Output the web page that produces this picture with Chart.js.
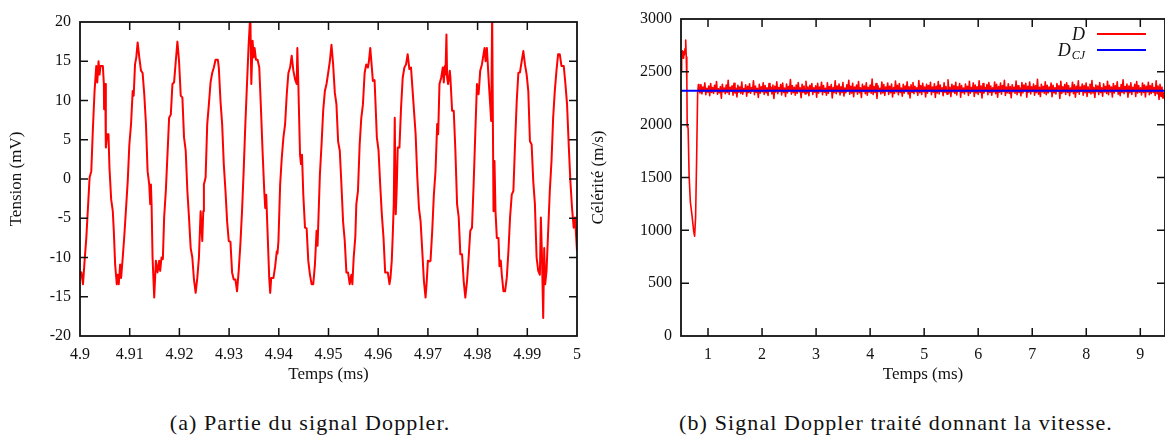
<!DOCTYPE html>
<html><head><meta charset="utf-8">
<script src="https://cdn.jsdelivr.net/npm/chart.js@4.4.1/dist/chart.umd.min.js"></script>
<style>
html,body{margin:0;padding:0;background:#fff;width:1165px;height:439px;overflow:hidden;position:relative}
#c1{position:absolute;left:0;top:0}
#c2{position:absolute;left:585px;top:0}
.cap{position:absolute;top:410px;font-family:"Liberation Serif",serif;font-size:22px;letter-spacing:1.1px;white-space:nowrap;text-align:center;color:#111;line-height:26px}
</style></head><body>
<canvas id="c1" width="590" height="390"></canvas>
<canvas id="c2" width="585" height="390"></canvas>
<div class="cap" style="left:0;width:620px">(a) Partie du signal Doppler.</div>
<div class="cap" style="left:596px;width:600px">(b) Signal Doppler traité donnant la vitesse.</div>
<script>
// ---------- (a) Doppler signal ----------
const leftT = [4.9000,4.90027,4.9006,4.90093,4.90127,4.90193,4.90227,4.9026,4.90293,4.90327,4.90347,4.90373,4.90393,4.90413,4.9046,4.9048,4.90485,4.90507,4.9052,4.90547,4.90573,4.90593,4.90627,4.9066,4.9068,4.90707,4.9074,4.9076,4.9078,4.90807,4.90827,4.9086,4.90893,4.9096,4.90993,4.91027,4.9106,4.9108,4.91107,4.91133,4.9116,4.91193,4.91227,4.9126,4.91293,4.91327,4.9136,4.91393,4.91413,4.91427,4.9144,4.9146,4.91493,4.91527,4.9156,4.91593,4.91613,4.9164,4.91667,4.91693,4.91727,4.9176,4.91793,4.91827,4.9186,4.91893,4.91927,4.9196,4.91993,4.92027,4.9206,4.92093,4.92127,4.9216,4.92193,4.92227,4.9226,4.92293,4.92327,4.9236,4.92393,4.92427,4.9246,4.9248,4.92493,4.92527,4.9256,4.92593,4.92627,4.9266,4.92693,4.92727,4.92773,4.92793,4.92827,4.9286,4.92893,4.92927,4.9296,4.92993,4.93027,4.9306,4.93093,4.93127,4.9316,4.93193,4.93227,4.9326,4.93293,4.93327,4.9336,
4.93393,4.93427,4.93447,4.93473,4.93493,4.93513,4.9354,4.93573,4.93607,4.9364,4.93673,4.93707,4.93727,4.93747,4.93773,4.93807,4.93827,4.93847,4.93893,4.93927,4.9396,4.93973,4.93993,4.94027,4.9406,4.94093,4.94127,4.9416,4.94193,4.94227,4.9426,4.94293,4.94327,4.9436,4.94373,4.94393,4.94427,4.94447,4.94467,4.94493,4.94527,4.9456,4.94593,4.94627,4.9466,4.94693,4.94727,4.9476,4.9478,4.94827,4.9486,4.94893,4.94927,4.9496,4.94993,4.95027,4.9506,4.95093,4.95127,4.9516,4.95193,4.95227,4.9526,4.95293,4.95327,4.9536,4.95393,4.95427,4.9546,4.9548,4.95507,4.9554,4.9556,4.95593,4.95627,4.9566,4.95693,4.95727,4.9576,4.95793,4.95813,4.9584,4.95867,4.95893,4.95927,4.95947,4.95973,4.96007,4.9604,4.96073,4.96107,4.9614,4.96193,4.96227,4.96247,4.96273,4.96293,4.96313,4.96333,4.96353,4.96373,4.96393,4.96427,4.9646,4.96493,4.96527,4.9656,4.96593,4.96627,4.9666,4.96693,
4.96753,4.96787,4.9682,4.96853,4.96887,4.9692,4.96953,4.96973,4.97,4.97033,4.97053,4.97087,4.9712,4.97153,4.97187,4.97207,4.97233,4.97267,4.973,4.9732,4.9734,4.97353,4.97373,4.97387,4.97407,4.9744,4.97453,4.97487,4.9752,4.97553,4.97587,4.9762,4.97653,4.97687,4.9772,4.97753,4.97787,4.9782,4.97853,4.97887,4.9792,4.97953,4.97987,4.9802,4.98053,4.98087,4.9812,4.9814,4.9816,4.98187,4.9822,4.9824,4.98253,4.98273,4.98293,4.9832,4.9834,4.9836,4.98387,4.9842,4.9844,4.98467,4.98487,4.9852,4.98553,4.98587,4.9862,4.98653,4.98687,4.9872,4.98753,4.98787,4.9882,4.98853,4.98887,4.9892,4.98953,4.98987,4.9902,4.99053,4.99087,4.9912,4.99153,4.99187,4.9922,4.99253,4.99273,4.99293,4.9932,4.9934,4.9936,4.99387,4.9942,4.99453,4.99487,4.9952,4.99553,4.99587,4.9962,4.99653,4.99687,4.99733,4.99767,4.998,4.99833,4.99867,4.999,4.99933,4.9996,5.0];
const leftV = [-12.2,-11.9,-13.4,-10.4,-7.5,0.2,1.0,6.5,11.2,14.4,12.3,15.0,13.3,14.4,14.4,12.1,8.9,12.1,4.0,5.7,5.7,1.4,-2.6,-4.1,-6.6,-10.9,-13.4,-12.2,-13.4,-10.9,-12.6,-10.0,-7.1,-0.3,4.4,7.0,11.2,10.6,14.6,15.5,17.4,15.5,13.8,13.5,10.8,7.0,1.0,-0.7,-3.2,-0.7,-3.2,-10.0,-15.1,-10.4,-11.9,-10.4,-11.7,-10.0,-10.2,-4.9,-1.5,3.1,7.8,8.2,12.1,12.3,15.0,17.5,15.0,10.6,10.4,5.3,3.6,-1.5,-4.9,-8.8,-10.0,-12.8,-14.5,-12.6,-10.0,-4.1,-7.9,-4.1,-0.7,0.2,7.0,9.5,12.3,13.5,14.2,15.2,15.2,14.2,9.9,7.0,1.9,-1.5,-5.4,-7.9,-8.0,-11.9,-12.8,-12.8,-14.3,-11.7,-8.3,-4.1,1.0,7.0,12.1,
17.1,21.0,12.1,17.6,15.5,16.7,15.2,15.2,14.2,9.1,3.6,-1.5,-3.7,-2.0,-6.6,-12.6,-14.5,-12.6,-12.6,-11.1,-9.2,-9.5,-7.9,-0.7,2.7,5.3,7.0,10.8,13.5,14.2,15.7,13.8,12.7,12.1,16.7,12.1,3.1,1.9,3.1,-2.0,-6.2,-6.3,-10.4,-12.2,-13.4,-13.4,-10.9,-6.6,-8.5,0.6,4.4,8.7,11.2,12.1,13.5,15.0,17.1,14.6,11.0,9.5,4.8,3.6,-0.7,-5.4,-7.9,-11.9,-11.9,-13.4,-12.2,-13.4,-10.0,-7.3,-3.2,-1.5,4.4,7.8,9.5,13.5,14.6,14.2,15.0,16.7,14.6,12.5,12.6,9.5,5.3,3.6,-0.7,-4.5,-7.5,-11.9,-11.9,-13.4,-12.6,-10.4,-7.1,-3.2,7.8,-4.5,-1.1,4.0,4.0,9.1,12.9,14.2,14.6,15.9,14.0,14.2,11.2,
5.7,0.2,-3.7,-5.4,-9.2,-13.0,-15.1,-13.4,-10.4,-10.5,-10.4,-6.6,-2.0,1.0,7.0,5.7,12.1,12.9,14.2,12.3,14.4,13.3,18.4,12.9,12.1,13.8,12.9,8.7,8.7,3.6,-3.2,-4.9,-9.6,-9.6,-13.0,-15.1,-13.0,-10.0,-6.6,-6.2,-0.7,5.7,12.1,10.8,13.8,14.6,15.9,16.7,15.0,16.7,12.9,10.8,9.5,7.4,21.0,-4.1,2.3,-4.1,-7.5,-7.5,-11.1,-10.4,-12.2,-14.3,-14.3,-12.6,-9.2,-4.9,-2.0,-1.5,4.4,9.9,13.5,13.6,15.0,16.3,14.6,13.3,11.2,4.8,4.4,-0.3,-3.2,-10.0,-11.7,-12.2,-4.9,-9.2,-17.7,-8.8,-13.4,-11.7,-6.6,-1.5,2.3,7.8,11.2,13.8,15.9,15.9,14.4,14.4,12.1,9.5,4.4,-0.3,-3.7,-6.2,-4.9,-9.2];
const leftXTicks = [4.9,4.91,4.92,4.93,4.94,4.95,4.96,4.97,4.98,4.99,5];
const leftXTickLabels = ['4.9','4.91','4.92','4.93','4.94','4.95','4.96','4.97','4.98','4.99','5'];
const leftYTicks = [-20,-15,-10,-5,0,5,10,15,20];
const leftYTickLabels = ['-20','-15','-10','-5','0','5','10','15','20'];

// ---------- (b) velocity ----------
const dTransT = [0.5,0.512,0.519,0.528,0.538,0.550,0.562,0.575,0.587,0.597,0.608,0.615,0.622,0.632,0.650,0.673,0.704,0.735,0.752,0.770,0.790,0.808,0.822];
const dTransV = [2500,2690,2650,2700,2630,2690,2660,2720,2800,2640,2420,1980,1990,1960,1520,1270,1140,990,945,1120,1700,2300,2380];
const dNoiseStart = 0.833;   // first sample time of the plateau (ms)
const dNoiseStep = 0.018;    // sampling step of the plateau (ms)
const dNoiseV = [
2348,2301,2379,2292,2356,2318,2395,2284,2343,2309,2366,2275,2390,2306,2352,2296,2372,2314,2408,2288,
2339,2302,2361,2251,2383,2311,2347,2293,2376,2305,2419,2286,2354,2317,2368,2279,2391,2300,2345,2262,
2372,2308,2357,2295,2403,2289,2341,2313,2378,2270,2362,2304,2386,2297,2350,2320,2414,2283,2366,2306,
2344,2258,2381,2299,2359,2311,2397,2287,2370,2302,2349,2276,2388,2316,2355,2291,2374,2247,2363,2309,
2406,2294,2351,2315,2379,2282,2393,2305,2346,2268,2385,2300,2360,2318,2427,2289,2369,2303,2354,2280,
2376,2297,2398,2312,2348,2255,2381,2306,2365,2290,2410,2301,2357,2274,2373,2316,2389,2286,2350,2308,
2367,2260,2391,2299,2356,2313,2402,2284,2371,2307,2345,2279,2396,2296,2361,2319,2380,2253,2352,2304,
2415,2292,2366,2310,2384,2281,2358,2306,2399,2271,2347,2302,2377,2317,2420,2288,2363,2299,2392,2265,
2355,2311,2374,2289,2408,2303,2349,2258,2382,2315,2365,2294,2397,2280,2353,2309,2376,2297,2431,2285,
2360,2305,2388,2249,2368,2314,2345,2291,2403,2300,2379,2276,2357,2318,2394,2287,2364,2302,2385,2262,
2351,2296,2412,2310,2372,2284,2389,2306,2346,2269,2383,2299,2366,2315,2405,2290,2358,2254,2377,2308,
2398,2293,2362,2312,2349,2278,2418,2303,2369,2286,2392,2311,2355,2263,2381,2298,2371,2316,2400,2283,
2357,2307,2386,2257,2364,2300,2409,2291,2375,2314,2348,2275,2396,2305,2361,2289,2425,2302,2353,2266,
2383,2309,2367,2295,2401,2282,2358,2317,2390,2261,2370,2304,2347,2290,2384,2311,2363,2277,2411,2298,
2352,2313,2395,2268,2374,2301,2359,2287,2416,2306,2365,2252,2388,2299,2351,2318,2379,2284,2399,2305,
2366,2280,2349,2310,2404,2293,2382,2261,2360,2307,2393,2289,2371,2315,2420,2276,2356,2302,2387,2295,
2361,2256,2378,2311,2354,2297,2413,2284,2369,2306,2346,2273,2398,2301,2375,2319,2391,2259,2364,2308,
2403,2291,2359,2314,2385,2279,2367,2304,2429,2288,2353,2266,2381,2310,2362,2297,2406,2283,2372,2300,
2355,2312,2394,2264,2373,2303,2350,2290,2388,2317,2368,2248,2410,2296,2358,2309,2380,2286,2397,2305,
2369,2275,2346,2311,2402,2294,2377,2260,2363,2308,2415,2289,2357,2316,2385,2279,2370,2302,2394,2268,
2358,2306,2383,2291,2418,2300,2351,2257,2376,2313,2366,2285,2399,2304,2349,2270,2387,2310,2362,2295,
2411,2283,2372,2309,2356,2262,2390,2301,2368,2318,2405,2288,2352,2274,2379,2306,2424,2293,2360,2311,
2384,2259,2365,2303,2396,2287,2354,2314,2381,2268,2407,2299,2371,2308,2348,2281,2393,2305,2376,2263,
2363,2310,2401,2284,2369,2296,2388,2305,2352,2277,2414,2292,2366,2238,2383,2268,2356,2251,2302,2232];
const dcjT = [0.5, 9.46];
const dcjV = [2322, 2322];
const rightXTicks = [1,2,3,4,5,6,7,8,9];
const rightXTickLabels = ['1','2','3','4','5','6','7','8','9'];
const rightYTicks = [0,500,1000,1500,2000,2500,3000];
const rightYTickLabels = ['0','500','1000','1500','2000','2500','3000'];
const seriesNames = ['D','D'];
const seriesSubs = ['','CJ'];

// ---------- build ----------
const FONT = '"Liberation Serif", "Times New Roman", serif';
const INK = '#111';

const dPoints = dTransT.map((t,i)=>({x:t,y:dTransV[i]}))
  .concat(dNoiseV.map((v,i)=>({x:dNoiseStart + i*dNoiseStep, y:v})));

const framePlugin = {
  id:'frame',
  afterDraw(chart){
    const {ctx, chartArea:a, scales:{x, y}} = chart;
    const L = 8;
    ctx.save();
    ctx.strokeStyle = INK; ctx.lineWidth = 1.5;
    ctx.beginPath();
    x.ticks.forEach(t=>{
      const p = x.getPixelForValue(t.value);
      if (p <= a.left+1 || p >= a.right-1) return;
      ctx.moveTo(p, a.bottom); ctx.lineTo(p, a.bottom - L);
      ctx.moveTo(p, a.top); ctx.lineTo(p, a.top + L);
    });
    y.ticks.forEach(t=>{
      const p = y.getPixelForValue(t.value);
      if (p <= a.top+1 || p >= a.bottom-1) return;
      ctx.moveTo(a.left, p); ctx.lineTo(a.left + L, p);
      ctx.moveTo(a.right, p); ctx.lineTo(a.right - L, p);
    });
    ctx.stroke();
    ctx.lineWidth = 1.8;
    ctx.strokeRect(a.left, a.top, a.right - a.left, a.bottom - a.top);
    ctx.restore();
  }
};

const legendPlugin = {
  id:'keybox',
  afterDraw(chart){
    const {ctx, chartArea:a} = chart;
    ctx.save();
    chart.data.datasets.forEach((ds, i)=>{
      const yRow = a.top + 15 + i*16;
      const lineR = a.right - 19, lineL = lineR - 49;
      ctx.strokeStyle = ds.borderColor; ctx.lineWidth = 2;
      ctx.beginPath(); ctx.moveTo(lineL, yRow); ctx.lineTo(lineR, yRow); ctx.stroke();
      const textR = lineL - 12;
      ctx.fillStyle = INK; ctx.textBaseline = 'alphabetic'; ctx.textAlign = 'right';
      let xr = textR;
      if (seriesSubs[i]) {
        ctx.font = 'italic 12px ' + FONT;
        ctx.fillText(seriesSubs[i], xr, yRow + 9);
        xr -= ctx.measureText(seriesSubs[i]).width + 1;
      }
      ctx.font = 'italic 18px ' + FONT;
      ctx.fillText(seriesNames[i], xr, yRow + 6);
    });
    ctx.restore();
  }
};

function axisX(min, max, ticks, labels){
  return {
    type:'linear', min, max,
    grid:{display:false, drawTicks:false}, border:{display:false},
    afterBuildTicks: s => { s.ticks = ticks.map(v=>({value:v})); },
    afterFit: s => { s.height = 54; },
    ticks:{padding:9, autoSkip:false, maxRotation:0, color:INK, font:{family:FONT, size:16},
      callback: v => labels[ticks.indexOf(v)]},
    title:{display:true, text:'Temps (ms)', color:INK, font:{family:FONT, size:17}, padding:{top:0, bottom:5}}
  };
}
function axisY(min, max, ticks, labels, width, title, tpad){
  return {
    type:'linear', min, max,
    grid:{display:false, drawTicks:false}, border:{display:false},
    afterBuildTicks: s => { s.ticks = ticks.map(v=>({value:v})); },
    afterFit: s => { s.width = width; },
    ticks:{padding:9, autoSkip:false, color:INK, font:{family:FONT, size:16},
      callback: v => labels[ticks.indexOf(v)]},
    title:{display:true, text:title, color:INK, font:{family:FONT, size:17}, padding:{top:tpad, bottom:0}}
  };
}

new Chart(document.getElementById('c1'), {
  type:'line',
  data:{datasets:[{
    data: leftT.map((t,i)=>({x:t, y:leftV[i]})),
    borderColor:'#ff0000', borderWidth:2, pointRadius:0, tension:0, fill:false,
    borderJoinStyle:'round'
  }]},
  options:{
    responsive:false, animation:false, devicePixelRatio:1,
    layout:{padding:{left:0, right:10, top:22, bottom:0}},
    plugins:{legend:{display:false}, tooltip:{enabled:false}},
    scales:{
      x: axisX(4.9, 5, leftXTicks, leftXTickLabels),
      y: axisY(-20, 20, leftYTicks, leftYTickLabels, 80, 'Tension (mV)', 6)
    }
  },
  plugins:[framePlugin]
});

new Chart(document.getElementById('c2'), {
  type:'line',
  data:{datasets:[
    {label:'D', data:dPoints, borderColor:'#ff0000', borderWidth:1.6, pointRadius:0, tension:0, fill:false, order:1, borderJoinStyle:'round'},
    {label:'DCJ', data:dcjT.map((t,i)=>({x:t, y:dcjV[i]})), borderColor:'#0000ff', borderWidth:2, pointRadius:0, tension:0, fill:false, order:0}
  ]},
  options:{
    responsive:false, animation:false, devicePixelRatio:1,
    layout:{padding:{left:0, right:5, top:19, bottom:0}},
    plugins:{legend:{display:false}, tooltip:{enabled:false}},
    scales:{
      x: axisX(0.5, 9.457, rightXTicks, rightXTickLabels),
      y: axisY(0, 3000, rightYTicks, rightYTickLabels, 96, 'Célérité (m/s)', 3)
    }
  },
  plugins:[framePlugin, legendPlugin]
});
</script>
</body></html>
